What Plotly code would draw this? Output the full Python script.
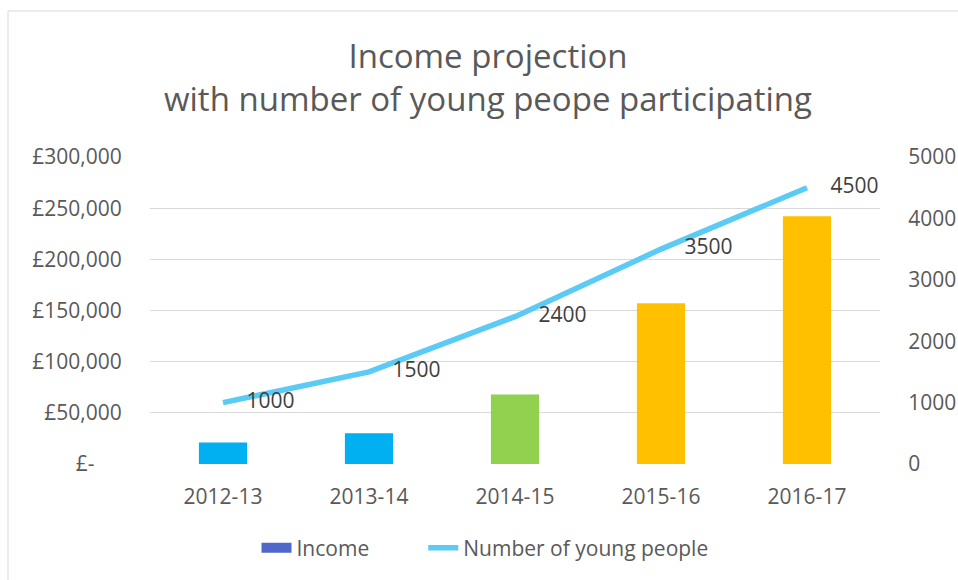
import plotly.graph_objects as go

years = ["2012-13", "2013-14", "2014-15", "2015-16", "2016-17"]
income = [21000, 30000, 68000, 157000, 242000]
young_people = [1000, 1500, 2400, 3500, 4500]
bar_colors = ["#00B0F0", "#00B0F0", "#92D050", "#FFC000", "#FFC000"]
income_ticks = [0, 50000, 100000, 150000, 200000, 250000, 300000]
income_ticktext = ["£-\u00a0\u00a0\u00a0\u00a0\u00a0", "£50,000", "£100,000", "£150,000", "£200,000", "£250,000", "£300,000"]
people_ticks = [0, 1000, 2000, 3000, 4000, 5000]

FONT = "Open Sans"
GREY = "#595959"

fig = go.Figure()
fig.add_trace(go.Bar(x=years, y=income, marker=dict(color=bar_colors, line=dict(width=0)),
                     width=0.33, showlegend=False, name="Income", yaxis="y"))
# legend entry for the income series (Excel shows series default colour)
fig.add_trace(go.Scatter(x=[years[0]], y=[None], mode="lines", yaxis="y",
                         name="Income" + "\u00a0" * 9,
                         line=dict(color="#4F67C9", width=13)))
fig.add_trace(go.Scatter(x=years, y=young_people, name="Number of young people", yaxis="y2",
                         mode="lines+markers+text", text=[str(v) for v in young_people],
                         textposition="middle right",
                         textfont=dict(family=FONT, size=21, color="#404040"),
                         marker=dict(size=36, color="rgba(0,0,0,0)"),
                         line=dict(color="#5BCBF5", width=5.5)))

fig.update_layout(
    width=958, height=580,
    margin=dict(l=150, r=78, t=157, b=116, autoexpand=False),
    paper_bgcolor="white", plot_bgcolor="white",
    barmode="overlay",
    font=dict(family=FONT, size=21, color=GREY),
    title=dict(text="Income projection<br>with number of young peope participating",
               x=488/958, xanchor="center", xref="container",
               y=1 - 68/580, yanchor="middle", yref="container",
               font=dict(family=FONT, size=33, color=GREY)),
    xaxis=dict(showgrid=False, showline=False, ticks="outside", ticklen=0, automargin=False,
               ticklabelstandoff=14, tickfont=dict(size=21, color=GREY)),
    yaxis=dict(range=[0, 300000], tickvals=income_ticks, ticktext=income_ticktext,
               showgrid=True, gridcolor="#D9D9D9", gridwidth=1, zeroline=False,
               ticks="outside", ticklen=0, ticklabelstandoff=23, automargin=False,
               tickfont=dict(size=21, color=GREY)),
    yaxis2=dict(range=[0, 5000], tickvals=people_ticks, overlaying="y", side="right",
                showgrid=False, zeroline=False, ticks="outside", ticklen=0, automargin=False,
                ticklabelstandoff=23, tickfont=dict(size=21, color=GREY)),
    legend=dict(orientation="h", x=485/958, xanchor="center", xref="container",
                y=1 - 548/580, yanchor="middle", yref="container",
                font=dict(size=21, color=GREY), itemwidth=30, traceorder="normal"),
    shapes=[dict(type="rect", xref="paper", yref="paper",
                 x0=(8 - 150) / 730, x1=(970 - 150) / 730,
                 y0=(464 - 600) / 307, y1=(464 - 11) / 307,
                 line=dict(color="#D9D9D9", width=1), fillcolor="rgba(0,0,0,0)", layer="below")],
)

fig.write_html("out.html")
